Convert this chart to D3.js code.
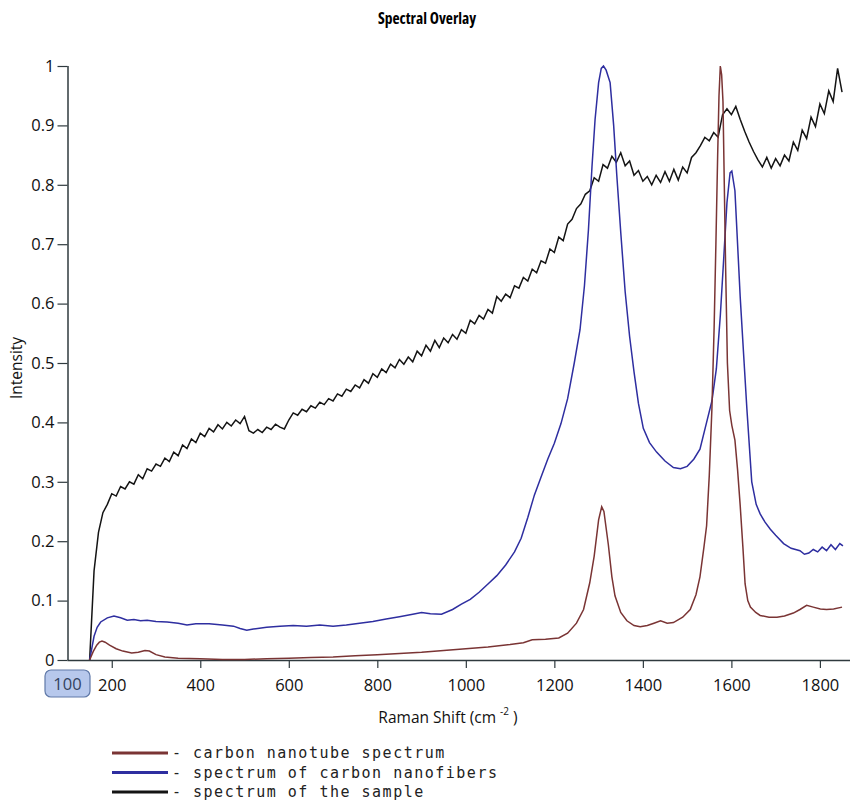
<!DOCTYPE html>
<html>
<head>
<meta charset="utf-8">
<script src="https://cdn.jsdelivr.net/npm/d3@7"></script>
<style>
  body { margin: 0; background: #fff; }
  svg { display: block; }
</style>
</head>
<body>
<div id="chart"></div>
<script>
// sample spectrum, evenly sampled from 150 cm-1 every 10 cm-1
var sampleStart = 150, sampleStep = 10;
var sampleValues = [
  0.000, 0.150, 0.215, 0.248, 0.262, 0.280, 0.276, 0.292, 0.288, 0.300,
  0.296, 0.312, 0.305, 0.322, 0.318, 0.330, 0.326, 0.340, 0.334, 0.350,
  0.344, 0.362, 0.356, 0.372, 0.366, 0.382, 0.376, 0.390, 0.384, 0.396,
  0.389, 0.400, 0.394, 0.404, 0.398, 0.410, 0.386, 0.382, 0.388, 0.383,
  0.392, 0.388, 0.397, 0.392, 0.389, 0.404, 0.416, 0.412, 0.422, 0.418,
  0.428, 0.424, 0.434, 0.430, 0.440, 0.436, 0.448, 0.444, 0.456, 0.452,
  0.463, 0.458, 0.472, 0.466, 0.482, 0.476, 0.490, 0.484, 0.498, 0.492,
  0.506, 0.498, 0.510, 0.502, 0.520, 0.512, 0.530, 0.520, 0.538, 0.526,
  0.542, 0.534, 0.548, 0.540, 0.556, 0.550, 0.572, 0.566, 0.580, 0.574,
  0.590, 0.584, 0.612, 0.604, 0.616, 0.610, 0.630, 0.626, 0.644, 0.638,
  0.658, 0.652, 0.672, 0.668, 0.692, 0.686, 0.712, 0.706, 0.734, 0.742,
  0.760, 0.768, 0.784, 0.790, 0.812, 0.806, 0.834, 0.828, 0.848, 0.838,
  0.854, 0.832, 0.840, 0.816, 0.824, 0.806, 0.814, 0.800, 0.816, 0.804,
  0.822, 0.806, 0.826, 0.808, 0.830, 0.820, 0.846, 0.854, 0.866, 0.880,
  0.874, 0.888, 0.880, 0.918, 0.928, 0.918, 0.932, 0.910, 0.890, 0.872,
  0.856, 0.842, 0.830, 0.846, 0.828, 0.844, 0.832, 0.850, 0.840, 0.872,
  0.858, 0.892, 0.878, 0.914, 0.898, 0.936, 0.920, 0.958, 0.940, 0.996,
  0.956
];

// carbon nanofibers: [shift, intensity]
var fiberPoints = [
  [150,0],[155,0.02],[160,0.04],[167,0.055],[175,0.064],[190,0.071],[205,0.074],
  [220,0.071],[235,0.067],[250,0.068],[265,0.066],[280,0.067],[300,0.065],[325,0.064],
  [350,0.062],[370,0.059],[390,0.061],[420,0.061],[450,0.059],[475,0.057],[490,0.053],
  [505,0.050],[520,0.052],[550,0.055],[580,0.057],[610,0.058],[640,0.057],[670,0.059],
  [700,0.057],[730,0.059],[760,0.062],[790,0.065],[820,0.069],[850,0.073],[880,0.077],
  [900,0.080],[920,0.078],[945,0.077],[970,0.085],[990,0.094],[1010,0.102],[1030,0.114],
  [1050,0.128],[1070,0.142],[1090,0.160],[1110,0.182],[1125,0.205],[1140,0.240],
  [1155,0.278],[1170,0.308],[1185,0.338],[1200,0.365],[1215,0.398],[1230,0.44],
  [1245,0.50],[1258,0.556],[1268,0.63],[1277,0.724],[1285,0.83],[1292,0.91],
  [1300,0.972],[1306,0.996],[1311,1.0],[1317,0.993],[1326,0.972],[1334,0.90],
  [1341,0.817],[1350,0.72],[1360,0.62],[1370,0.545],[1380,0.485],[1390,0.432],
  [1401,0.39],[1415,0.366],[1431,0.35],[1450,0.335],[1469,0.324],[1485,0.322],
  [1500,0.326],[1515,0.338],[1529,0.355],[1544,0.40],[1556,0.436],[1566,0.49],
  [1575,0.58],[1583,0.68],[1590,0.77],[1597,0.82],[1601,0.823],[1608,0.79],
  [1614,0.70],[1620,0.61],[1628,0.51],[1635,0.423],[1646,0.30],[1656,0.262],
  [1665,0.246],[1676,0.232],[1688,0.22],[1700,0.21],[1718,0.196],[1735,0.188],
  [1755,0.184],[1765,0.178],[1775,0.18],[1785,0.186],[1795,0.182],[1805,0.19],
  [1815,0.184],[1825,0.194],[1835,0.186],[1845,0.196],[1852,0.192]
];

// carbon nanotube: [shift, intensity]
var tubePoints = [
  [150,0],[158,0.014],[166,0.025],[172,0.03],[178,0.032],[185,0.030],[195,0.025],
  [210,0.019],[225,0.015],[245,0.012],[260,0.013],[275,0.016],[285,0.015],[300,0.009],
  [320,0.005],[350,0.003],[400,0.002],[450,0.001],[500,0.001],[550,0.002],[600,0.003],
  [650,0.004],[700,0.005],[750,0.007],[800,0.009],[850,0.011],[900,0.013],[950,0.016],
  [1000,0.019],[1050,0.022],[1100,0.026],[1130,0.029],[1150,0.034],[1180,0.035],
  [1210,0.037],[1230,0.045],[1250,0.062],[1266,0.085],[1280,0.13],[1290,0.175],
  [1300,0.236],[1307,0.258],[1312,0.25],[1322,0.194],[1330,0.14],[1337,0.108],
  [1350,0.08],[1364,0.066],[1380,0.058],[1394,0.056],[1410,0.058],[1425,0.062],
  [1440,0.066],[1455,0.062],[1469,0.063],[1490,0.072],[1507,0.085],[1520,0.11],
  [1529,0.14],[1538,0.19],[1544,0.226],[1550,0.31],[1556,0.423],[1561,0.56],
  [1565,0.70],[1569,0.85],[1572,0.95],[1575,1.0],[1578,0.985],[1581,0.94],
  [1584,0.8],[1587,0.66],[1591,0.5],[1596,0.42],[1601,0.395],[1608,0.37],
  [1614,0.32],[1620,0.259],[1626,0.19],[1631,0.128],[1637,0.10],[1643,0.089],
  [1655,0.08],[1665,0.075],[1685,0.072],[1703,0.072],[1720,0.074],[1740,0.079],
  [1755,0.085],[1770,0.092],[1785,0.089],[1801,0.086],[1815,0.085],[1831,0.086],
  [1850,0.089]
];

var xTicks = [200, 400, 600, 800, 1000, 1200, 1400, 1600, 1800];
var yTicks = [0, 0.1, 0.2, 0.3, 0.4, 0.5, 0.6, 0.7, 0.8, 0.9, 1];
var legendNames = ["carbon nanotube spectrum", "spectrum of carbon nanofibers", "spectrum of the sample"];
var legendColors = ["#7a3434", "#2e2ea0", "#141414"];

var width = 854, height = 800;
var svg = d3.select("#chart").append("svg")
    .attr("width", width)
    .attr("height", height)
    .style("background", "#fff");

var x = d3.scaleLinear().domain([100, 1868]).range([67.5, 850]);
var y = d3.scaleLinear().domain([0, 1]).range([660, 66]);

var samplePoints = sampleValues.map(function(v, i){ return [sampleStart + i * sampleStep, v]; });

var line = d3.line()
    .x(function(d){ return x(d[0]); })
    .y(function(d){ return y(d[1]); });

// title
svg.append("text")
    .attr("x", 427)
    .attr("y", 24)
    .attr("text-anchor", "middle")
    .style("font-family", "'Liberation Sans Narrow', 'Open Sans', sans-serif")
    .style("font-stretch", "condensed")
    .style("font-weight", "bold")
    .style("font-size", "15.5px")
    .text("Spectral Overlay");

// axes
var yAxis = svg.append("g")
    .attr("transform", "translate(67.5,0)")
    .call(d3.axisLeft(y).tickValues(yTicks).tickSize(10).tickPadding(3)
        .tickFormat(function(d){ return d === 0 ? "0" : (d === 1 ? "1" : d3.format(".1f")(d)); }));

var xAxis = svg.append("g")
    .attr("transform", "translate(0,660)")
    .call(d3.axisBottom(x).tickValues(xTicks).tickSize(8).tickPadding(11).tickFormat(d3.format("d")));

[yAxis, xAxis].forEach(function(g){
    g.select(".domain").attr("stroke", "#2f3a3e").attr("stroke-width", 1.5);
    g.selectAll(".tick line").attr("stroke", "#2f3a3e").attr("stroke-width", 1.2);
    g.selectAll(".tick text")
        .style("font-family", "'Open Sans', sans-serif")
        .style("font-size", "16.5px")
        .attr("fill", "#111");
});
xAxis.select(".domain").attr("d", "M67.5,0.5H850");
yAxis.select(".domain").attr("d", "M0.5,66V660");

// highlighted axis minimum
svg.append("rect")
    .attr("x", x(100) - 22.5)
    .attr("y", 670)
    .attr("width", 45)
    .attr("height", 27)
    .attr("rx", 6)
    .attr("fill", "#b7c8ec")
    .attr("stroke", "#6079a8")
    .attr("stroke-width", 1.2);
svg.append("text")
    .attr("x", x(100))
    .attr("y", 690)
    .attr("text-anchor", "middle")
    .style("font-family", "'Open Sans', sans-serif")
    .style("font-size", "16.5px")
    .attr("fill", "#33425e")
    .text("100");

// axis labels
var xl = svg.append("text")
    .attr("x", 448)
    .attr("y", 723)
    .attr("text-anchor", "middle")
    .style("font-family", "'Open Sans', sans-serif")
    .style("font-size", "15.5px")
    .attr("fill", "#111");
xl.append("tspan").text("Raman Shift (cm ");
xl.append("tspan").attr("dy", -8).style("font-size", "10px").text("-2");
xl.append("tspan").attr("dy", 8).text(" )");

svg.append("text")
    .attr("transform", "translate(22,368) rotate(-90)")
    .attr("text-anchor", "middle")
    .style("font-family", "'Open Sans', sans-serif")
    .style("font-size", "15.5px")
    .attr("fill", "#111")
    .text("Intensity");

// spectra
svg.append("path").datum(samplePoints)
    .attr("d", line).attr("fill", "none")
    .attr("stroke", legendColors[2]).attr("stroke-width", 1.5);
svg.append("path").datum(fiberPoints)
    .attr("d", line).attr("fill", "none")
    .attr("stroke", legendColors[1]).attr("stroke-width", 1.5);
svg.append("path").datum(tubePoints)
    .attr("d", line).attr("fill", "none")
    .attr("stroke", legendColors[0]).attr("stroke-width", 1.5);

// legend
var legend = svg.append("g").attr("transform", "translate(112,753)");
legendNames.forEach(function(name, i){
    var row = legend.append("g").attr("transform", "translate(0," + (i * 19.5) + ")");
    row.append("line")
        .attr("x1", 0).attr("x2", 56)
        .attr("stroke", legendColors[i]).attr("stroke-width", 3);
    row.append("text")
        .attr("x", 60)
        .attr("y", 5)
        .style("font-family", "'DejaVu Sans Mono', monospace")
        .style("font-size", "15px")
        .style("letter-spacing", "1.5px")
        .attr("fill", "#222")
        .text("- " + name);
});
</script>
</body>
</html>
